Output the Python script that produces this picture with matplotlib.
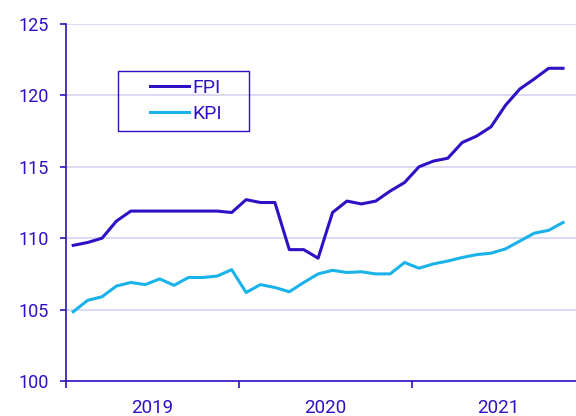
import numpy as np
from matplotlib import pyplot as plt
from matplotlib.patches import Rectangle

# Monthly index values, Jan 2019 - Nov 2021
fpi = [109.5, 109.7, 110.0, 111.2, 111.9, 111.9, 111.9, 111.9, 111.9, 111.9,
       111.9, 111.8, 112.7, 112.5, 112.5, 109.2, 109.2, 108.6, 111.8, 112.6,
       112.4, 112.6, 113.3, 113.9, 115.0, 115.4, 115.6, 116.7, 117.15, 117.8,
       119.3, 120.45, 121.15, 121.9, 121.9]
kpi = [104.85, 105.65, 105.9, 106.65, 106.9, 106.75, 107.15, 106.7, 107.25, 107.25,
       107.35, 107.8, 106.2, 106.75, 106.55, 106.25, 106.9, 107.5, 107.75, 107.6,
       107.65, 107.5, 107.5, 108.3, 107.9, 108.2, 108.4, 108.65, 108.85, 108.95,
       109.25, 109.8, 110.35, 110.55, 111.1]
years = ["2019", "2020", "2021"]

INDIGO = "#2b12c4"
CYAN = "#1ab2ea"
GRID = "#d6d3f2"

plt.rcParams["font.family"] = ["Roboto", "DejaVu Sans"]

fig = plt.figure(figsize=(5.76, 4.16), dpi=100)
ax = fig.add_axes([0.1146, 0.0841, 0.8854, 0.8582])

x = np.arange(len(fpi)) + 0.5
ax.plot(x, fpi, color=INDIGO, lw=2.2, label="FPI")
ax.plot(x, kpi, color=CYAN, lw=2.2, label="KPI")

ax.set_ylim(100, 125)
ax.set_xlim(0, 35.4)
ax.set_yticks(range(100, 126, 5))
ax.yaxis.grid(True, color=GRID, lw=1.2)
ax.set_axisbelow(True)

ax.set_xticks([0, 12, 24])
ax.set_xticklabels([])
ax.set_xticks([6, 18, 30], minor=True)
ax.set_xticklabels(years, minor=True)
ax.tick_params(axis="x", which="major", length=5, width=1.2, color=INDIGO)
ax.tick_params(axis="x", which="minor", length=0, pad=13, labelsize=13.5, labelcolor=INDIGO)
ax.tick_params(axis="y", length=4.5, width=1.2, color=INDIGO, labelsize=13,
               labelcolor=INDIGO, pad=8)

for side in ["top", "right"]:
    ax.spines[side].set_visible(False)
for side in ["left", "bottom"]:
    ax.spines[side].set_color(INDIGO)
    ax.spines[side].set_linewidth(1.2)

# legend box drawn separately (it is wider than the legend content)
ax.add_patch(Rectangle((0.102, 0.700), 0.257, 0.168, transform=ax.transAxes,
                       fill=False, edgecolor=INDIGO, lw=1.0, zorder=5))
leg = ax.legend(loc="upper left", bbox_to_anchor=(0.1647, 0.846), fontsize=14,
                frameon=False, handlelength=2.0, handletextpad=0.2,
                borderpad=0, labelspacing=0.42, borderaxespad=0)
for t in leg.get_texts():
    t.set_color(INDIGO)

plt.savefig("out.png", dpi=100)
plt.close()
